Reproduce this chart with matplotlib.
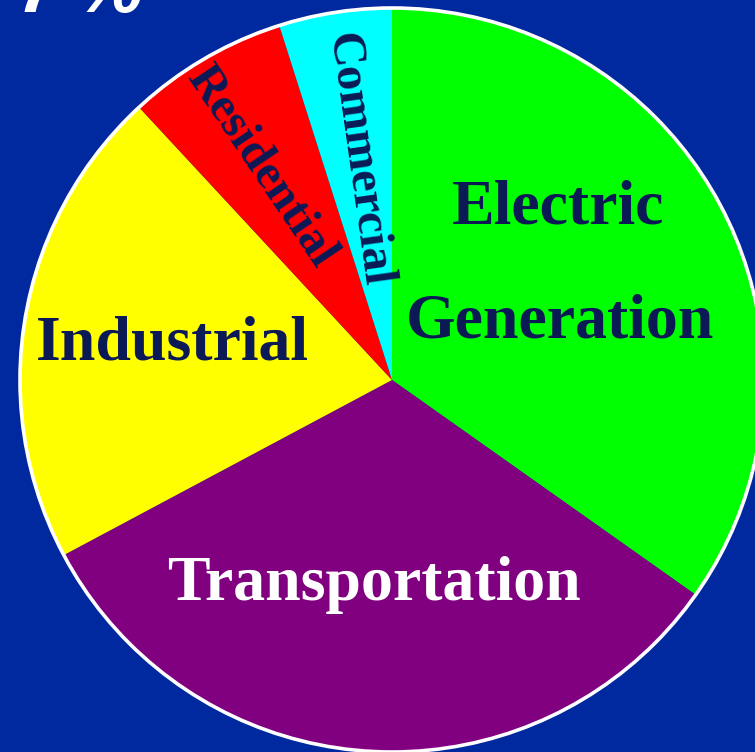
import matplotlib
matplotlib.use("Agg")
import matplotlib.pyplot as plt
from matplotlib.patches import Circle

sectors = ["Electric Generation", "Transportation", "Industrial", "Residential", "Commercial"]
shares = [34.8, 32.4, 20.9, 7.0, 4.9]
colors = ["#00ff00", "#800080", "#ffff00", "#ff0000", "#00ffff"]

bg = "#00289f"
navy = "#0b1a55"
W, H = 755, 752
cx, cy, r = 392, 380, 372


def main() -> None:
    fig = plt.figure(figsize=(W / 100, H / 100), dpi=100, facecolor=bg)
    ax = fig.add_axes([0, 0, 1, 1])

    ax.pie(shares, colors=colors, startangle=90, counterclock=False,
           center=(cx, H - cy), radius=r, frame=True,
           wedgeprops={"linewidth": 0})
    ax.set_xlim(0, W)
    ax.set_ylim(0, H)
    ax.set_aspect("equal")
    ax.axis("off")
    ax.add_patch(Circle((cx, H - cy), r, facecolor="none", edgecolor="white", linewidth=2.6))

    serif = {"family": "Liberation Serif", "weight": "bold"}
    ax.text(558, H - 208, "Electric", color=navy, fontsize=46, ha="center", va="center", **serif)
    ax.text(560, H - 322, "Generation", color=navy, fontsize=46, ha="center", va="center", **serif)
    ax.text(172, H - 345, "Industrial", color=navy, fontsize=46, ha="center", va="center", **serif)
    ax.text(374, H - 585, "Transportation", color="white", fontsize=46, ha="center", va="center", **serif)
    ax.text(261, H - 167, "Residential", color=navy, fontsize=35, ha="center", va="center",
            rotation=-56, rotation_mode="anchor", **serif)
    ax.text(358, H - 160, "Commercial", color=navy, fontsize=35, ha="center", va="center",
            rotation=-82, rotation_mode="anchor", **serif)

    # label of a slide title, cut off at the top edge as in the source
    ax.text(18, H - 12, "7\u2009%", color="white", fontsize=55, ha="left", va="baseline",
            family="Liberation Sans", weight="bold", style="italic")

    fig.savefig("out.png", dpi=100, facecolor=bg)


if __name__ == "__main__":
    main()
